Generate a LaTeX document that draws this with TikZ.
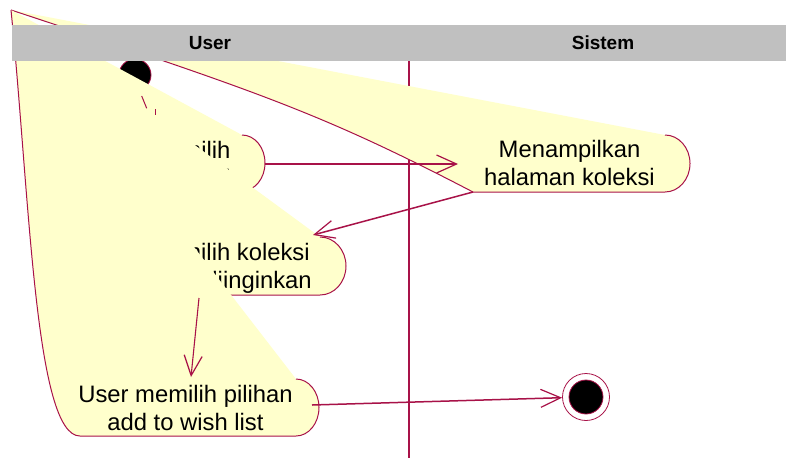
\documentclass[tikz,border=0pt]{standalone}
\usepackage{fontspec}
\setmainfont{Liberation Sans}
\usetikzlibrary{arrows.meta}
\definecolor{rose}{RGB}{168,18,72}
\definecolor{actfill}{RGB}{255,255,204}
\definecolor{lanegray}{RGB}{192,192,192}

\begin{document}
\begin{tikzpicture}[x=1pt,y=-1pt,
  rim/.style={draw=rose, line width=1pt},
  trans/.style={draw=rose, line width=1.3pt,
    -{Straight Barb[length=20pt,width=18pt,line width=1.2pt]}},
  acttext/.style={anchor=base, inner sep=0pt, font=\fontsize{23.8}{28}\selectfont},
  lanehead/.style={inner sep=0pt, font=\fontsize{19}{22}\selectfont\bfseries}
]
\useasboundingbox (0,0) rectangle (786,458);
\fill[white] (0,0) rectangle (786,458);

% swimlane divider
\draw[rose, line width=1.2pt] (409,61) -- (409,458);

% initial state
\node[circle, fill=black, draw=rose, line width=0.8pt, minimum size=32pt, inner sep=0pt] (start) at (135,75) {};

% shared corner of the activity outlines
\coordinate (apex) at (11,10);

% activity: Menampilkan halaman koleksi
\fill[actfill] (apex) -- (665,135) .. controls (678.8,135) and (690,147.8) .. (690,163.5)
  .. controls (690,179.2) and (678.8,192) .. (665,192) -- (473,192)
  .. controls (323,114) and (261,92.5) .. (apex) -- cycle;
\draw[rim] (665,135) .. controls (678.8,135) and (690,147.8) .. (690,163.5)
  .. controls (690,179.2) and (678.8,192) .. (665,192) -- (473,192)
  .. controls (323,114) and (261,92.5) .. (apex);
\node[acttext] (show) at (569.5,157) {\begin{tabular}[t]{@{}c@{}}Menampilkan\\halaman koleksi\end{tabular}};

% activity: User memilih menu koleksi
\fill[actfill] (apex) -- (242,135) .. controls (254.7,135) and (265,147.5) .. (265,163)
  .. controls (265,178.5) and (254.7,191) .. (242,191) -- (165,191)
  .. controls (120,191) and (25,100) .. (apex) -- cycle;
\draw[rim] (242,135) .. controls (254.7,135) and (265,147.5) .. (265,163)
  .. controls (265,178.5) and (254.7,191) .. (242,191) -- (165,191);
\node[acttext] (menu) at (161,158) {\begin{tabular}[t]{@{}c@{}}User memilih\\menu koleksi\end{tabular}};

% activity: memilih koleksi yang diinginkan
\fill[actfill] (apex) -- (320,237) .. controls (334.4,237) and (346,250) .. (346,266)
  .. controls (346,282) and (334.4,295) .. (320,295) -- (150,295)
  .. controls (105,295) and (28,150) .. (apex) -- cycle;
\draw[rim] (320,237) .. controls (334.4,237) and (346,250) .. (346,266)
  .. controls (346,282) and (334.4,295) .. (320,295) -- (150,295);
\node[acttext] (pick) at (229,260) {\begin{tabular}[t]{@{}c@{}}memilih koleksi\\yang diinginkan\end{tabular}};

% activity: User memilih pilihan add to wish list
\fill[actfill] (apex) -- (296,379) .. controls (308.7,379) and (319,391.8) .. (319,407.5)
  .. controls (319,423.2) and (308.7,436) .. (296,436) -- (80,436)
  .. controls (35,436) and (30,200) .. (apex) -- cycle;
\draw[rim] (296,379) .. controls (308.7,379) and (319,391.8) .. (319,407.5)
  .. controls (319,423.2) and (308.7,436) .. (296,436) -- (80,436)
  .. controls (35,436) and (30,200) .. (apex);
\node[acttext] (wish) at (185.5,402) {\begin{tabular}[t]{@{}c@{}}User memilih pilihan\\add to wish list\end{tabular}};

% final state
\node[circle, draw=rose, fill=white, line width=0.8pt, minimum size=47pt, inner sep=0pt] (finish) at (586,397) {};
\node[circle, draw=rose, fill=black, line width=0.8pt, minimum size=34pt, inner sep=0pt] (finishdot) at (finish) {};

% transition end points
\coordinate (menuout) at (265,164);
\coordinate (showin) at (458,164);
\coordinate (showout) at (473,192);
\coordinate (pickin) at (313,235);
\coordinate (pickout) at (199,298);
\coordinate (wishin) at (191,377);
\coordinate (wishout) at (312,405);
\coordinate (startA) at (141.7,96);
\coordinate (startB) at (146.7,108.3);
\coordinate (startC) at (155,109.3);
\coordinate (startD) at (155,115);

% transitions
\draw[rose, line width=1pt] (startA) -- (startB);
\draw[rose, line width=1pt] (startC) -- (startD);
\draw[trans, line width=1.8pt] (menuout) -- (showin);
\draw[trans, line width=1.5pt] (showout) -- (pickin);
\draw[trans, line width=1.1pt] (pickout) -- (wishin);
\draw[trans, line width=1.5pt] (wishout) -- (finish);

% swimlane header
\fill[lanegray] (12,25) rectangle (786,61);
\node[lanehead] (userlane) at (210,43) {User};
\node[lanehead] (syslane) at (603,43) {Sistem};
\end{tikzpicture}
\end{document}
